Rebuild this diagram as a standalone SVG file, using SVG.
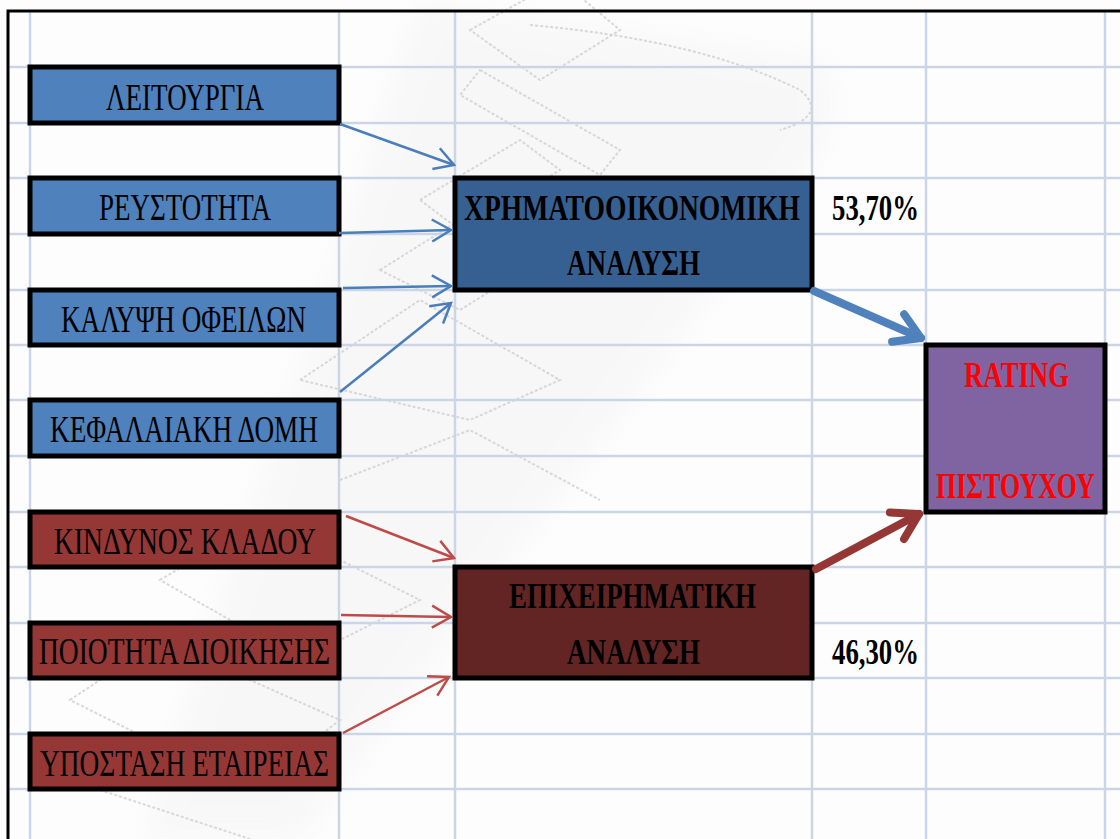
<svg xmlns="http://www.w3.org/2000/svg" width="1120" height="839" viewBox="0 0 1120 839">
<style>
.grid{stroke:#CBD5E5;stroke-width:2.5;fill:none}
.box{stroke:#000;stroke-width:5}
.lbl{font-family:"Liberation Serif","Times New Roman",serif;font-size:38px;fill:#000}
.bold{font-family:"Liberation Serif","Times New Roman",serif;font-size:36px;font-weight:bold;fill:#000}
.red{fill:#FF0000}
.tb{stroke:#4A7EBB;stroke-width:2.5;fill:none}
.tr{stroke:#BE4B48;stroke-width:2.5;fill:none}
.kb{stroke:#4F81BD;stroke-width:8;fill:none;stroke-linecap:round}
.kr{stroke:#953735;stroke-width:8;fill:none;stroke-linecap:round}
.wm{fill:none;stroke:#CFCFCF;stroke-width:2;stroke-dasharray:3 2;opacity:0.8}
</style>
<defs>
<marker id="hb" markerUnits="userSpaceOnUse" markerWidth="40" markerHeight="40" refX="0" refY="0" viewBox="-30 -20 40 40" orient="auto" overflow="visible">
<path d="M-19,-11 L0,0 L-19,11" fill="none" stroke="#4A7EBB" stroke-width="2.5"/>
</marker>
<marker id="hr" markerUnits="userSpaceOnUse" markerWidth="40" markerHeight="40" refX="0" refY="0" viewBox="-30 -20 40 40" orient="auto" overflow="visible">
<path d="M-19,-11 L0,0 L-19,11" fill="none" stroke="#BE4B48" stroke-width="2.5"/>
</marker>
<marker id="kbh" markerUnits="userSpaceOnUse" markerWidth="60" markerHeight="60" refX="0" refY="0" viewBox="-40 -30 60 60" orient="auto" overflow="visible">
<path d="M-25,-15 L0,0 L-25,15" fill="none" stroke="#4F81BD" stroke-width="8" stroke-linecap="round" stroke-linejoin="round"/>
</marker>
<marker id="krh" markerUnits="userSpaceOnUse" markerWidth="60" markerHeight="60" refX="0" refY="0" viewBox="-40 -30 60 60" orient="auto" overflow="visible">
<path d="M-25,-15 L0,0 L-25,15" fill="none" stroke="#953735" stroke-width="8" stroke-linecap="round" stroke-linejoin="round"/>
</marker>
<filter id="soft" x="-20%" y="-20%" width="140%" height="140%"><feGaussianBlur stdDeviation="14"/></filter>
</defs>
<rect x="0" y="0" width="1120" height="839" fill="#FDFDFE"/>
<g id="watermark">
<path d="M420,0 L830,60 L830,140 L300,839 L140,839 Z" fill="#E8E8E8" opacity="0.25" filter="url(#soft)"/>
<path class="wm" d="M470,30 L560,-20 L620,30 L540,80 Z"/>
<path class="wm" d="M480,70 L620,150 L600,175 L460,95 Z"/>
<path class="wm" d="M530,25 Q700,40 800,90 Q830,115 780,130"/>
<path class="wm" d="M420,200 L520,140 L560,170 L460,230 Z"/>
<path class="wm" d="M380,270 L460,220 L540,260 L460,310 Z"/>
<path class="wm" d="M300,380 L420,300 L560,380 L470,420 Z"/>
<path class="wm" d="M340,480 L470,430 L600,500"/>
<path class="wm" d="M160,580 L260,520 L420,600 L300,660 Z"/>
<path class="wm" d="M70,700 L160,640 L340,720 L250,790 Z"/>
<path class="wm" d="M100,790 L250,839"/>
</g>
<g id="grid">
<path class="grid" d="M8,67H1120M8,123H1120M8,178H1120M8,234H1120M8,290H1120M8,345H1120M8,400H1120M8,456H1120M8,512H1120M8,567H1120M8,623H1120M8,678H1120M8,734H1120M8,789H1120"/>
<path class="grid" d="M30,11V839M339,11V839M455,11V839M812,11V839M926,11V839M1105,11V839"/>
</g>
<path d="M8,839V11H1120" fill="none" stroke="#000" stroke-width="3"/>
<g id="n1"><rect class="box" x="30" y="67" width="309" height="56" fill="#4F81BD"/><text class="lbl" x="106" y="110" textLength="158" lengthAdjust="spacingAndGlyphs">ΛΕΙΤΟΥΡΓΙΑ</text></g>
<g id="n2"><rect class="box" x="30" y="178" width="309" height="56" fill="#4F81BD"/><text class="lbl" x="99" y="220" textLength="172" lengthAdjust="spacingAndGlyphs">ΡΕΥΣΤΟΤΗΤΑ</text></g>
<g id="n3"><rect class="box" x="30" y="290" width="309" height="55" fill="#4F81BD"/><text class="lbl" x="61" y="332" textLength="245" lengthAdjust="spacingAndGlyphs">ΚΑΛΥΨΗ ΟΦΕΙΛΩΝ</text></g>
<g id="n4"><rect class="box" x="30" y="400" width="309" height="56" fill="#4F81BD"/><text class="lbl" x="50" y="442" textLength="268" lengthAdjust="spacingAndGlyphs">ΚΕΦΑΛΑΙΑΚΗ ΔΟΜΗ</text></g>
<g id="n5"><rect class="box" x="30" y="512" width="309" height="55" fill="#953735"/><text class="lbl" x="54" y="554" textLength="262" lengthAdjust="spacingAndGlyphs">ΚΙΝΔΥΝΟΣ ΚΛΑΔΟΥ</text></g>
<g id="n6"><rect class="box" x="30" y="623" width="309" height="55" fill="#953735"/><text class="lbl" x="39" y="664" textLength="291" lengthAdjust="spacingAndGlyphs">ΠΟΙΟΤΗΤΑ ΔΙΟΙΚΗΣΗΣ</text></g>
<g id="n7"><rect class="box" x="30" y="734" width="309" height="55" fill="#953735"/><text class="lbl" x="40" y="776" textLength="289" lengthAdjust="spacingAndGlyphs">ΥΠΟΣΤΑΣΗ ΕΤΑΙΡΕΙΑΣ</text></g>
<g id="fin"><rect class="box" x="455" y="178" width="357" height="112" fill="#376092"/><text class="bold" x="464" y="220" textLength="336" lengthAdjust="spacingAndGlyphs">ΧΡΗΜΑΤΟΟΙΚΟΝΟΜΙΚΗ</text><text class="bold" x="567" y="275" textLength="133" lengthAdjust="spacingAndGlyphs">ΑΝΑΛΥΣΗ</text></g>
<g id="bus"><rect class="box" x="455" y="567" width="357" height="111" fill="#632523"/><text class="bold" x="509" y="608" textLength="247" lengthAdjust="spacingAndGlyphs">ΕΠΙΧΕΙΡΗΜΑΤΙΚΗ</text><text class="bold" x="567" y="664" textLength="133" lengthAdjust="spacingAndGlyphs">ΑΝΑΛΥΣΗ</text></g>
<g id="rating"><rect class="box" x="926" y="345" width="179" height="167" fill="#8064A2"/><text class="bold red" x="964" y="387" textLength="105" lengthAdjust="spacingAndGlyphs">RATING</text><text class="bold red" x="936" y="498" textLength="159" lengthAdjust="spacingAndGlyphs">ΠΙΣΤΟΥΧΟΥ</text></g>
<g id="pct1"><text class="bold" x="832" y="220" textLength="87" lengthAdjust="spacingAndGlyphs">53,70%</text></g>
<g id="pct2"><text class="bold" x="832" y="664" textLength="87" lengthAdjust="spacingAndGlyphs">46,30%</text></g>
<g id="connectors">
<line class="tb" x1="340" y1="124" x2="454" y2="165" marker-end="url(#hb)"/>
<line class="tb" x1="339" y1="233" x2="451" y2="230" marker-end="url(#hb)"/>
<line class="tb" x1="343" y1="288" x2="451" y2="286" marker-end="url(#hb)"/>
<line class="tb" x1="340" y1="392" x2="451" y2="303" marker-end="url(#hb)"/>
<line class="tr" x1="346" y1="516" x2="454" y2="558" marker-end="url(#hr)"/>
<line class="tr" x1="341" y1="615" x2="451" y2="617" marker-end="url(#hr)"/>
<line class="tr" x1="343" y1="733" x2="449" y2="677" marker-end="url(#hr)"/>
<line class="kb" x1="814" y1="291" x2="921" y2="338" marker-end="url(#kbh)"/>
<line class="kr" x1="816" y1="569" x2="919" y2="514" marker-end="url(#krh)"/>
</g>
</svg>
